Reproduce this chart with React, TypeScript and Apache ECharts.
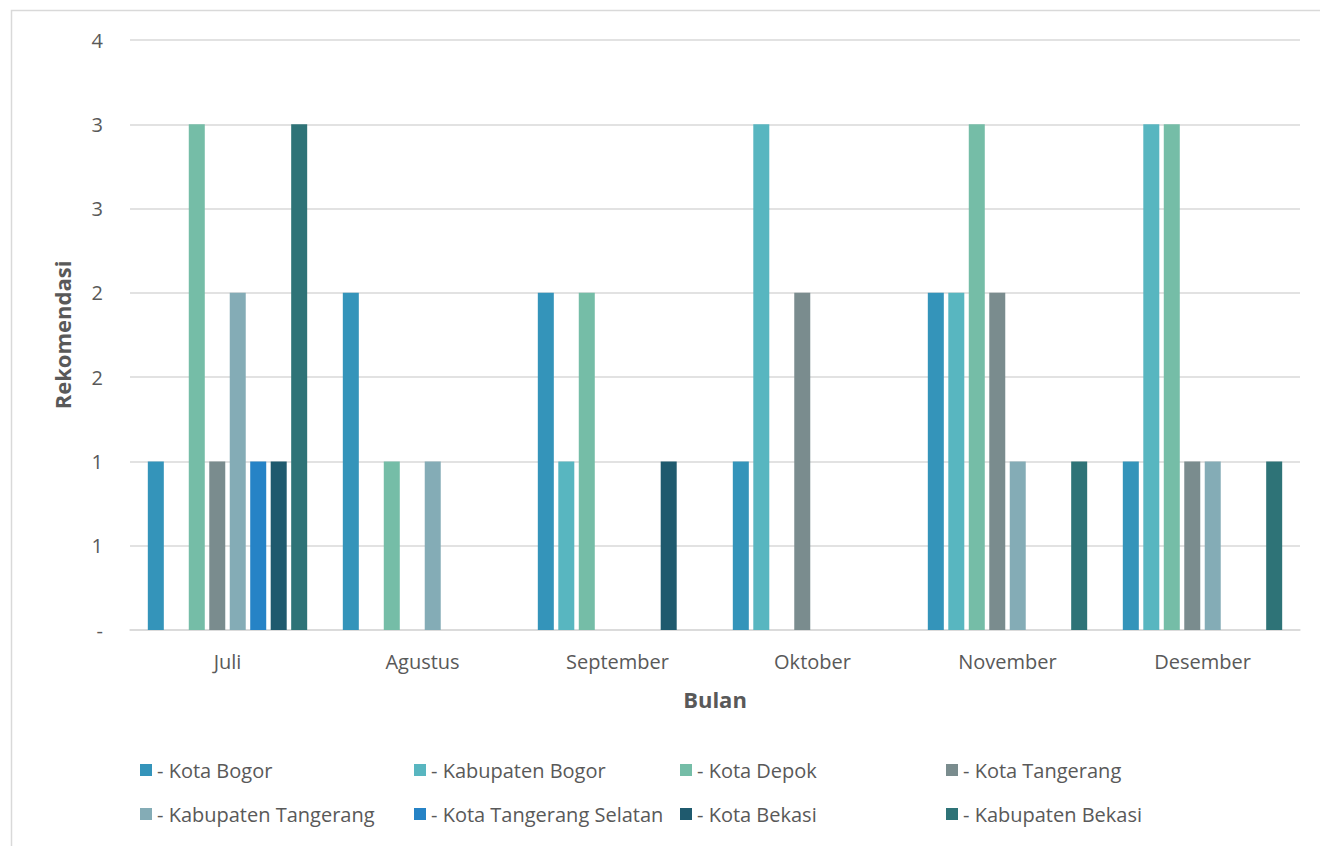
import React, { useEffect, useRef } from "react";
import * as echarts from "echarts";

const months = ["Juli", "Agustus", "September", "Oktober", "November", "Desember"];
const seriesNames = [
  "Kota Bogor",
  "Kabupaten Bogor",
  "Kota Depok",
  "Kota Tangerang",
  "Kabupaten Tangerang",
  "Kota Tangerang Selatan",
  "Kota Bekasi",
  "Kabupaten Bekasi",
];
const colors = ["#3494BA", "#58B6C0", "#75BDA7", "#7A8C8E", "#84ACB6", "#2683C6", "#1F5A6E", "#2E7377"];

const kotaBogor = [1, 2, 2, 1, 2, 1];
const kabBogor = [0, 0, 1, 3, 2, 3];
const kotaDepok = [3, 1, 2, 0, 3, 3];
const kotaTangerang = [1, 0, 0, 2, 2, 1];
const kabTangerang = [2, 1, 0, 0, 1, 1];
const kotaTangSel = [1, 0, 0, 0, 0, 0];
const kotaBekasi = [1, 0, 1, 0, 0, 0];
const kabBekasi = [3, 0, 0, 0, 1, 1];
const values = [kotaBogor, kabBogor, kotaDepok, kotaTangerang, kabTangerang, kotaTangSel, kotaBekasi, kabBekasi];

const yMin = 0;
const yMax = 3.5;
const yInterval = 0.5;

const legendCols = [140, 414, 680, 946];
const legendRows = [760, 804];

const FONT = "'Open Sans', sans-serif";
const TXT = "#595959";

export default function App() {
  const ref = useRef<HTMLDivElement>(null);
  useEffect(() => {
    if (!ref.current) return;
    const chart = echarts.init(ref.current, null, { renderer: "svg" });
    const legends = seriesNames.map((n, i) => ({
      data: [n],
      left: legendCols[i % 4],
      top: legendRows[Math.floor(i / 4)],
      padding: 0,
      icon: "rect",
      itemWidth: 12,
      itemHeight: 12,
      selectedMode: false,
      formatter: (name: string) => "- " + name,
      textStyle: { fontSize: 20, color: TXT, fontFamily: FONT },
    }));
    chart.setOption({
      animation: false,
      backgroundColor: "#ffffff",
      textStyle: { fontFamily: FONT },
      graphic: [
        {
          type: "rect",
          shape: { x: 11.5, y: 10.5, width: 1400, height: 900 },
          style: { fill: "none", stroke: "#d9d9d9", lineWidth: 1.5 },
          silent: true,
        },
      ],
      legend: legends,
      grid: { left: 130, right: 20, top: 40, bottom: 216 },
      xAxis: {
        type: "category",
        data: months,
        name: "Bulan",
        nameLocation: "middle",
        nameGap: 58,
        nameTextStyle: { fontSize: 22, fontWeight: "bold", color: TXT, fontFamily: FONT },
        axisTick: { show: false },
        axisLine: { lineStyle: { color: "#d9d9d9", width: 1.5 } },
        axisLabel: { fontSize: 20, color: TXT, margin: 21, fontFamily: FONT },
      },
      yAxis: {
        type: "value",
        min: yMin,
        max: yMax,
        interval: yInterval,
        name: "Rekomendasi",
        nameLocation: "middle",
        nameGap: 57,
        nameTextStyle: { fontSize: 22, fontWeight: "bold", color: TXT, fontFamily: FONT },
        axisLine: { show: false },
        axisTick: { show: false },
        splitLine: { lineStyle: { color: "#d9d9d9", width: 1.5 } },
        axisLabel: {
          fontSize: 20,
          color: TXT,
          margin: 27,
          fontFamily: FONT,
          formatter: (v: number) => (v === 0 ? "-" : String(Math.round(v))),
        },
      },
      series: seriesNames.map((n, i) => ({
        name: n,
        type: "bar",
        data: values[i],
        barWidth: 16,
        barGap: "28%",
        itemStyle: { color: colors[i] },
      })),
    });
    return () => chart.dispose();
  }, []);
  return <div ref={ref} style={{ width: 1320, height: 846, position: "absolute", left: 0, top: 0 }} />;
}
